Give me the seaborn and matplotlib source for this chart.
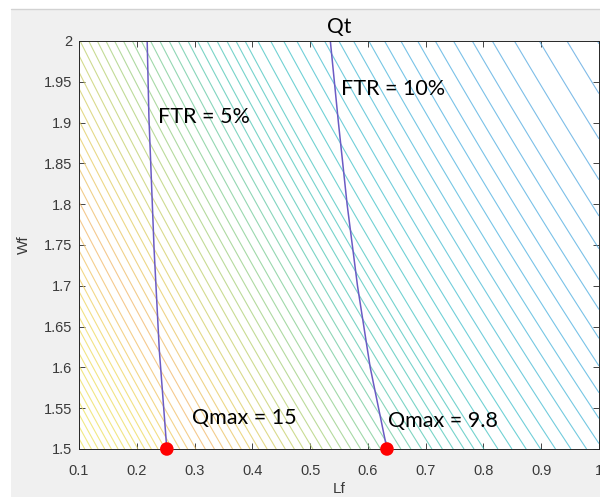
import numpy as np
import matplotlib
matplotlib.use("Agg")
import matplotlib.pyplot as plt
import seaborn as sns
from matplotlib.colors import LinearSegmentedColormap, Normalize
from matplotlib.patches import Rectangle
from matplotlib.lines import Line2D

# Lf where each Qt contour crosses Wf = 1.75 (left to right)
qt_cross_lf = [
    -0.075, -0.064, -0.053, -0.042, -0.031, -0.020, -0.009, 0.002, 0.013,
    0.024, 0.035, 0.046, 0.058, 0.070, 0.082, 0.095,
    0.1087, 0.1242, 0.1393, 0.1542, 0.1693, 0.1836, 0.1982, 0.2126,
    0.2264, 0.2415, 0.2564, 0.2714, 0.2865, 0.3021, 0.3177, 0.3333,
    0.3489, 0.3649, 0.3810, 0.3973, 0.4139, 0.4307, 0.4475, 0.4641,
    0.4815, 0.4988, 0.5161, 0.5341, 0.5519, 0.5684, 0.5848, 0.6079,
    0.6311, 0.6546, 0.6784, 0.7031, 0.7286, 0.7545, 0.7810, 0.8087,
    0.8371, 0.8666, 0.8970, 0.9289, 0.9618, 0.9958,
    1.032, 1.072, 1.117, 1.167, 1.222, 1.280,
]

# FTR iso-lines
ftr5_wf = [2.0, 1.907, 1.744, 1.621, 1.5]
ftr5_lf = [0.218, 0.221, 0.230, 0.239, 0.252]
ftr10_wf = [2.0, 1.9, 1.8, 1.7, 1.6, 1.5]
ftr10_lf = [0.535, 0.549, 0.564, 0.582, 0.604, 0.633]

# Qmax points
qmax_lf = [0.252, 0.633]
qmax_wf = [1.5, 1.5]

labels = ["FTR = 5%", "FTR = 10%", "Qmax = 15", "Qmax = 9.8"]
label_lf = [0.236, 0.553, 0.296, 0.634]
label_wf = [1.907, 1.941, 1.538, 1.534]

x_ticks = [0.1, 0.2, 0.3, 0.4, 0.5, 0.6, 0.7, 0.8, 0.9, 1.0]
x_ticklabels = ["0.1", "0.2", "0.3", "0.4", "0.5", "0.6", "0.7", "0.8", "0.9", "1"]
y_ticks = [1.5, 1.55, 1.6, 1.65, 1.7, 1.75, 1.8, 1.85, 1.9, 1.95, 2.0]
y_ticklabels = ["1.5", "1.55", "1.6", "1.65", "1.7", "1.75", "1.8", "1.85", "1.9", "1.95", "2"]

# line colours along the contour stack (yellow corner -> orange -> green -> blue)
line_colors = ["#ece45c", "#eed85c", "#f2b46a", "#e6cc5e", "#b8d06e", "#80cc8e",
               "#4fc6b2", "#3fc2c8", "#4ab0e0", "#5aa0e0"]
color_pos = [-0.075, 0.05, 0.13, 0.2, 0.3, 0.4, 0.5, 0.65, 0.85, 1.28]

sns.set_theme(style="white")
plt.rcParams["font.family"] = ["Liberation Sans", "DejaVu Sans"]

fig = plt.figure(figsize=(6.0, 4.97), dpi=100, facecolor="white")
fig.add_artist(Rectangle((11 / 600, 0), 1, (497 - 9) / 497, transform=fig.transFigure,
                         facecolor="#f0f0f0", edgecolor="none", zorder=-10))
fig.add_artist(Line2D([11 / 600, 1], [(497 - 8.5) / 497] * 2, color="#d2d2d2", lw=1,
                      zorder=-9))

ax = fig.add_axes([79 / 600, 48 / 497, 520 / 600, 408 / 497])
ax.set_facecolor("white")

# contour field: Qt iso-lines tilt with Wf
lf = np.linspace(0.1, 1.0, 400)
wf = np.linspace(1.5, 2.0, 300)
L, W = np.meshgrid(lf, wf)
U = L + (0.72 + 0.18 * L) * (W - 1.75)

nodes = [(p - color_pos[0]) / (color_pos[-1] - color_pos[0]) for p in color_pos]
cmap = LinearSegmentedColormap.from_list("qt", list(zip(nodes, line_colors)))
ax.contour(L, W, U, levels=qt_cross_lf, cmap=cmap,
           norm=Normalize(color_pos[0], color_pos[-1]), linewidths=0.8, alpha=0.75)

for lfs, wfs in [(ftr5_lf, ftr5_wf), (ftr10_lf, ftr10_wf)]:
    sns.lineplot(x=lfs, y=wfs, sort=False, estimator=None, color="#6b5bc4", lw=1.1, ax=ax)

sns.scatterplot(x=qmax_lf, y=qmax_wf, s=95, color="#ff0000", edgecolor="none",
                clip_on=False, zorder=5, ax=ax)

for t, x, y in zip(labels, label_lf, label_wf):
    ax.text(x, y, t, fontsize=15.5, family=["Lato", "DejaVu Sans"], color="black",
            ha="left", va="center")

ax.set_xlim(0.1, 1.0)
ax.set_ylim(1.5, 2.0)
ax.set_xticks(x_ticks)
ax.set_xticklabels(x_ticklabels)
ax.set_yticks(y_ticks)
ax.set_yticklabels(y_ticklabels)
ax.tick_params(direction="in", length=4, width=0.6, colors="#262626", labelcolor="#3a3a3a",
               labelsize=10.5, top=True, right=True, bottom=True, left=True)
ax.tick_params(axis="x", pad=11)
ax.tick_params(axis="y", pad=5)
for s in ax.spines.values():
    s.set_color("#262626")
    s.set_linewidth(0.7)

ax.set_xlabel("Lf", fontsize=11, color="#3a3a3a", labelpad=3)
ax.set_ylabel("Wf", fontsize=11, color="#3a3a3a", labelpad=9)
ax.set_title("Qt", fontsize=15, family=["Lato", "DejaVu Sans"], color="black", pad=6)

fig.savefig("out.png", dpi=100, facecolor=fig.get_facecolor())
